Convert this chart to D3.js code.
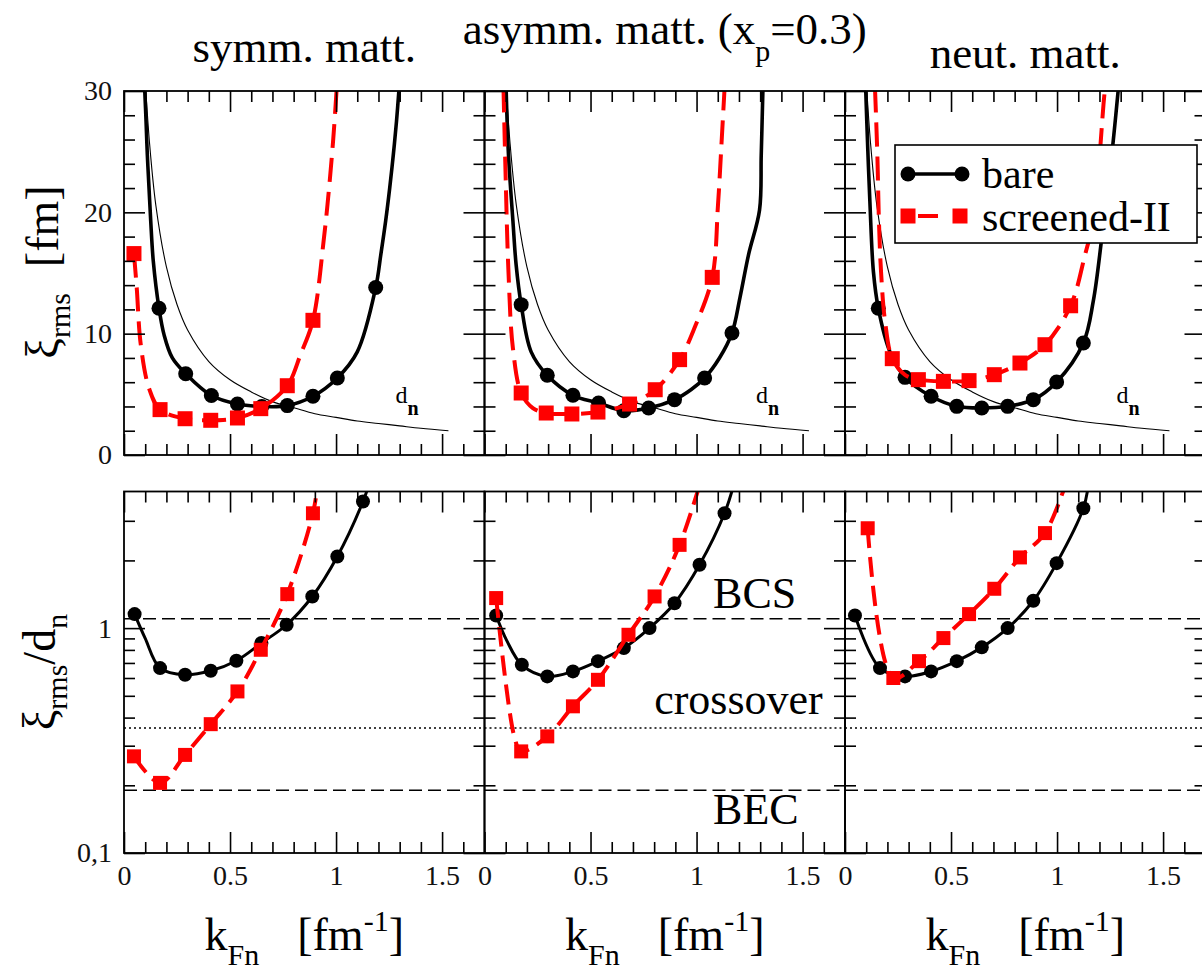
<!DOCTYPE html>
<html>
<head>
<meta charset="utf-8">
<script src="https://cdn.jsdelivr.net/npm/d3@7"></script>
<style>
  body { margin: 0; background: #fff; }
  svg { display: block; }
</style>
</head>
<body>
<svg id="chart" width="1202" height="970"></svg>
<script>
/* ---------- data: [kFn, value, isMarker] ---------- */
// top row: xi_rms [fm]
const symmBareTop = [[0.0975,30.2,0],[0.104,27.5,0],[0.110,24.75,0],[0.118,22.0,0],[0.126,19.3,0],[0.138,16.0,0],
  [0.165,12.1,1],[0.189,9.9,0],[0.228,8.0,0],[0.291,6.7,1],[0.412,4.9,1],[0.535,4.2,1],[0.650,4.0,1],[0.770,4.07,1],
  [0.891,4.84,1],[1.006,6.35,1],[1.10,8.5,0],[1.187,13.8,1],[1.211,16.5,0],[1.234,19.3,0],[1.253,22.0,0],
  [1.270,24.75,0],[1.285,27.5,0],[1.297,30.2,0]];
const symmScrTop = [[0.047,16.6,1],[0.060,13.8,0],[0.079,9.1,0],[0.118,5.5,0],[0.170,3.74,1],[0.288,2.99,1],
  [0.409,2.86,1],[0.535,3.05,1],[0.645,3.82,1],[0.770,5.71,1],[0.833,8.3,0],[0.891,11.1,1],[0.943,17.9,0],
  [0.967,22.0,0],[0.987,26.1,0],[1.003,30.2,0]];
const asymBareTop = [[0.102,30.2,0],[0.113,24.75,0],[0.134,19.3,0],[0.149,15.7,0],[0.173,12.39,1],[0.220,8.5,0],
  [0.296,6.57,1],[0.417,4.92,1],[0.538,4.29,1],[0.657,3.65,1],[0.774,3.87,1],[0.896,4.56,1],[0.975,5.4,0],
  [1.038,6.35,1],[1.108,8.0,0],[1.167,10.05,1],[1.205,13.0,0],[1.245,16.5,0],[1.297,20.2,0],[1.305,24.75,0],
  [1.313,30.2,0]];
const asymScrTop = [[0.0896,30.2,0],[0.099,23.4,0],[0.113,15.1,0],[0.134,8.8,0],[0.173,5.11,1],[0.228,3.87,0],
  [0.291,3.46,1],[0.412,3.38,1],[0.535,3.54,1],[0.684,4.20,1],[0.805,5.38,1],[0.920,7.86,1],[0.991,10.5,0],
  [1.074,14.64,1],[1.101,20.6,0],[1.119,26.1,0],[1.132,30.2,0]];
const neutBareTop = [[0.0975,30.2,0],[0.107,25.4,0],[0.118,20.6,0],[0.134,15.1,0],[0.157,12.1,1],[0.212,8.5,0],
  [0.283,6.40,1],[0.406,4.84,1],[0.527,4.01,1],[0.645,3.87,1],[0.767,4.01,1],[0.888,4.56,1],[0.998,6.02,1],
  [1.124,9.23,1],[1.171,12.7,0],[1.211,17.9,0],[1.258,24.75,0],[1.289,30.2,0]];
const neutScrTop = [[0.1415,30.2,0],[0.1525,24.75,0],[0.160,19.3,0],[0.170,15.1,0],[0.189,11.0,0],[0.223,7.94,1],
  [0.283,6.6,0],[0.346,6.21,1],[0.464,6.07,1],[0.585,6.13,1],[0.704,6.62,1],[0.825,7.58,1],[0.943,9.09,1],
  [1.064,12.3,1],[1.132,16.5,0],[1.171,19.3,0],[1.195,23.4,0],[1.219,28.9,0],[1.226,30.2,0]];
// mean neutron distance d_n [fm] (thin line, same in every top panel)
const dnLine = [[0.10,30.9],[0.12,25.8],[0.15,20.6],[0.20,15.5],[0.25,12.4],[0.30,10.3],[0.40,7.7],[0.50,6.2],
  [0.60,5.2],[0.70,4.4],[0.80,3.9],[0.90,3.4],[1.00,3.1],[1.10,2.8],[1.20,2.6],[1.30,2.4],[1.40,2.2],[1.53,2.0]];

// bottom row: xi_rms / d_n
const symmBareBot = [[0.050,1.154,1],[0.100,0.90,0],[0.170,0.664,1],[0.288,0.620,1],[0.409,0.646,1],[0.530,0.716,1],
  [0.648,0.858,1],[0.767,1.035,1],[0.888,1.382,1],[1.006,2.082,1],[1.127,3.656,1],[1.16,4.5,0]];
const symmScrBot = [[0.047,0.269,1],[0.170,0.205,1],[0.288,0.273,1],[0.409,0.374,1],[0.535,0.523,1],[0.645,0.801,1],
  [0.770,1.416,1],[0.891,3.24,1],[0.915,4.5,0]];
const asymBareBot = [[0.055,1.138,1],[0.105,0.88,0],[0.176,0.687,1],[0.296,0.610,1],[0.417,0.642,1],[0.535,0.713,1],
  [0.657,0.815,1],[0.778,1.0,1],[0.896,1.29,1],[1.014,1.912,1],[1.132,3.24,1],[1.18,4.5,0]];
const asymScrBot = [[0.055,1.36,1],[0.142,0.325,0],[0.173,0.283,1],[0.296,0.330,1],[0.417,0.449,1],[0.535,0.589,1],
  [0.679,0.934,1],[0.802,1.383,1],[0.920,2.345,1],[1.02,4.5,0]];
const neutBareBot = [[0.047,1.138,1],[0.165,0.664,1],[0.283,0.610,1],[0.406,0.642,1],[0.527,0.713,1],[0.645,0.821,1],
  [0.767,1.0,1],[0.888,1.323,1],[0.998,1.945,1],[1.124,3.41,1],[1.15,4.5,0]];
const neutScrBot = [[0.107,2.78,1],[0.228,0.600,1],[0.349,0.713,1],[0.464,0.903,1],[0.585,1.154,1],[0.704,1.496,1],
  [0.825,2.062,1],[0.943,2.645,1],[1.045,4.5,0]];

// BCS / crossover / BEC boundaries of xi_rms/d_n
const regimeLines = [1.1, 0.36, 0.19];
const regimeNames = ["BCS", "crossover", "BEC"];

const panelTitles = [["symm. matt.", "", ""], ["asymm. matt. (x", "p", "=0.3)"], ["neut. matt.", "", ""]];
const seriesNames = ["bare", "screened-II"];

const kMajor = [0, 0.5, 1, 1.5];
const kMinor = [0.1,0.2,0.3,0.4,0.6,0.7,0.8,0.9,1.1,1.2,1.3,1.4,1.6];
const xiMajor = [0, 10, 20, 30];
const xiMinor = [2,4,6,8,12,14,16,18,22,24,26,28];
const ratioMajor = [0.1, 1];
const ratioMinor = [0.2,0.3,0.4,0.5,0.6,0.7,0.8,0.9,2,3];
const ratioLabels = ["0,1", "1"];

/* ---------- layout ---------- */
const FONT = '"Liberation Serif"';
const svg = d3.select("#chart");
const panelLeft = [124, 484.5, 845];
const panelW = 360.5;
const topY = [91, 455], botY = [491.5, 853];
const tickSmall = 11, tickBig = 21;

const yTop = d3.scaleLinear().domain([0, 30]).range([topY[1], topY[0]]);
const yBot = d3.scaleLog().domain([0.1, 4.05]).range([botY[1], botY[0]]);

const panels = [
  { bareTop: symmBareTop, scrTop: symmScrTop, bareBot: symmBareBot, scrBot: symmScrBot },
  { bareTop: asymBareTop, scrTop: asymScrTop, bareBot: asymBareBot, scrBot: asymScrBot },
  { bareTop: neutBareTop, scrTop: neutScrTop, bareBot: neutBareBot, scrBot: neutScrBot }
];

const defs = svg.append("defs");

function drawTicks(g, x, y, yMajor, yMinor, x0, x1, y0, y1, xLabels, yLabelFmt) {
  const kill = a => a.call(s => s.select(".domain").remove());
  // bottom & top edges
  g.append("g").attr("transform", `translate(0,${y1})`)
    .call(d3.axisBottom(x).tickValues(kMinor).tickSize(-tickSmall).tickFormat("")).call(kill);
  const bx = g.append("g").attr("transform", `translate(0,${y1})`)
    .call(d3.axisBottom(x).tickValues(kMajor).tickSize(-tickBig).tickPadding(12)
      .tickFormat(xLabels ? d3.format("") : ""));
  kill(bx);
  bx.selectAll("text").attr("font-size", 28).attr("fill", "#111").style("font-family", FONT);
  g.append("g").attr("transform", `translate(0,${y0})`)
    .call(d3.axisTop(x).tickValues(kMinor).tickSize(-tickSmall).tickFormat("")).call(kill);
  g.append("g").attr("transform", `translate(0,${y0})`)
    .call(d3.axisTop(x).tickValues(kMajor).tickSize(-tickBig).tickFormat("")).call(kill);
  // left & right edges
  g.append("g").attr("transform", `translate(${x0},0)`)
    .call(d3.axisLeft(y).tickValues(yMinor).tickSize(-tickSmall).tickFormat("")).call(kill);
  const ly = g.append("g").attr("transform", `translate(${x0},0)`)
    .call(d3.axisLeft(y).tickValues(yMajor).tickSize(-tickBig).tickPadding(12)
      .tickFormat(yLabelFmt || ""));
  kill(ly);
  ly.selectAll("text").attr("font-size", 28).attr("fill", "#111").style("font-family", FONT);
  g.append("g").attr("transform", `translate(${x1},0)`)
    .call(d3.axisRight(y).tickValues(yMinor).tickSize(-tickSmall).tickFormat("")).call(kill);
  g.append("g").attr("transform", `translate(${x1},0)`)
    .call(d3.axisRight(y).tickValues(yMajor).tickSize(-tickBig).tickFormat("")).call(kill);
  g.selectAll(".tick line").attr("stroke", "#000").attr("stroke-width", 1.6);
}

function drawSeries(g, x, y, data, bare, big) {
  const line = d3.line().x(d => x(d[0])).y(d => y(d[1])).curve(d3.curveCatmullRom.alpha(0.5));
  g.append("path").datum(data).attr("d", line).attr("fill", "none")
    .attr("stroke", bare ? "#000" : "#ff0000")
    .attr("stroke-width", bare ? (big ? 3.6 : 3) : 4)
    .attr("stroke-dasharray", bare ? null : (big ? "24,10" : "20,9"));
  const marks = data.filter(d => d[2] === 1);
  if (bare) {
    g.selectAll(null).data(marks).enter().append("circle")
      .attr("cx", d => x(d[0])).attr("cy", d => y(d[1])).attr("r", big ? 7.5 : 7).attr("fill", "#000");
  } else {
    const s = big ? 15 : 14;
    g.selectAll(null).data(marks).enter().append("rect")
      .attr("x", d => x(d[0]) - s / 2).attr("y", d => y(d[1]) - s / 2)
      .attr("width", s).attr("height", s).attr("fill", "#ff0000");
  }
}

function txt(sel) { return sel.append("text").style("font-family", FONT).attr("fill", "#000"); }

panels.forEach((p, i) => {
  const x0 = panelLeft[i], x1 = x0 + panelW;
  const x = d3.scaleLinear().domain([0, 1.7]).range([x0, x1]);

  /* ---- top panel: xi_rms ---- */
  defs.append("clipPath").attr("id", `clipT${i}`).append("rect")
    .attr("x", x0).attr("y", topY[0]).attr("width", panelW).attr("height", topY[1] - topY[0]);
  const gT = svg.append("g");
  const cT = gT.append("g").attr("clip-path", `url(#clipT${i})`);
  cT.append("path").datum(dnLine)
    .attr("d", d3.line().x(d => x(d[0])).y(d => yTop(d[1])).curve(d3.curveCatmullRom.alpha(0.5)))
    .attr("fill", "none").attr("stroke", "#000").attr("stroke-width", 1.1);
  drawSeries(cT, x, yTop, p.bareTop, true, true);
  drawSeries(cT, x, yTop, p.scrTop, false, true);
  gT.append("rect").attr("x", x0).attr("y", topY[0]).attr("width", panelW).attr("height", topY[1] - topY[0])
    .attr("fill", "none").attr("stroke", "#000").attr("stroke-width", 1.8);
  drawTicks(gT, x, yTop, xiMajor, xiMinor, x0, x1, topY[0], topY[1], false, i === 0 ? d3.format("") : null);

  const dn = txt(gT).attr("x", x(1.28)).attr("y", yTop(4.3)).attr("font-size", 24);
  dn.append("tspan").text("d");
  dn.append("tspan").attr("dy", 12).attr("font-size", 20).attr("font-weight", "bold").text("n");

  /* ---- bottom panel: xi_rms / d_n ---- */
  defs.append("clipPath").attr("id", `clipB${i}`).append("rect")
    .attr("x", x0).attr("y", botY[0]).attr("width", panelW).attr("height", botY[1] - botY[0]);
  const gB = svg.append("g");
  const cB = gB.append("g").attr("clip-path", `url(#clipB${i})`);
  regimeLines.forEach((v, j) => {
    cB.append("line").attr("x1", x0).attr("x2", x1).attr("y1", yBot(v)).attr("y2", yBot(v))
      .attr("stroke", "#000").attr("stroke-width", 1.5)
      .attr("stroke-dasharray", j === 1 ? "2,3" : "13,6");
  });
  drawSeries(cB, x, yBot, p.bareBot, true, false);
  drawSeries(cB, x, yBot, p.scrBot, false, false);
  gB.append("rect").attr("x", x0).attr("y", botY[0]).attr("width", panelW).attr("height", botY[1] - botY[0])
    .attr("fill", "none").attr("stroke", "#000").attr("stroke-width", 1.8);
  drawTicks(gB, x, yBot, ratioMajor, ratioMinor, x0, x1, botY[0], botY[1], true,
    i === 0 ? (d => ratioLabels[ratioMajor.indexOf(d)]) : null);

  /* ---- x axis title ---- */
  const xt = txt(svg).attr("x", x0 + panelW / 2).attr("y", 950)
    .attr("text-anchor", "middle").attr("font-size", 46);
  xt.append("tspan").text("k");
  xt.append("tspan").attr("font-size", 30).attr("dy", 15).text("Fn");
  xt.append("tspan").attr("dy", -15).attr("dx", 38).text("[fm");
  xt.append("tspan").attr("font-size", 30).attr("dy", -19).text("-1");
  xt.append("tspan").attr("dy", 19).text("]");

  /* ---- panel title ---- */
  const tt = txt(svg).attr("x", x0 + panelW / 2).attr("y", [62, 44, 68][i])
    .attr("text-anchor", "middle").attr("font-size", 45);
  tt.append("tspan").text(panelTitles[i][0]);
  if (panelTitles[i][1]) {
    tt.append("tspan").attr("font-size", 30).attr("dy", 17).text(panelTitles[i][1]);
    tt.append("tspan").attr("dy", -17).text(panelTitles[i][2]);
  }
});

/* ---------- regime labels (middle bottom panel) ---------- */
const xMid = d3.scaleLinear().domain([0, 1.7]).range([panelLeft[1], panelLeft[1] + panelW]);
const regimePos = [[1.078, -11], [0.80, -14], [1.078, 34]];
regimeNames.forEach((name, j) => {
  txt(svg).attr("x", xMid(regimePos[j][0])).attr("y", yBot(regimeLines[j]) + regimePos[j][1])
    .attr("font-size", 44).text(name);
});

/* ---------- y axis titles ---------- */
const yt1 = txt(svg).attr("transform", "translate(58,272) rotate(-90)")
  .attr("text-anchor", "middle").attr("font-size", 46);
yt1.append("tspan").text("ξ");
yt1.append("tspan").attr("font-size", 30).attr("dy", 12).text("rms");
yt1.append("tspan").attr("dy", -12).attr("dx", 26).text("[fm]");

const yt2 = txt(svg).attr("transform", "translate(55,672) rotate(-90)")
  .attr("text-anchor", "middle").attr("font-size", 46);
yt2.append("tspan").text("ξ");
yt2.append("tspan").attr("font-size", 30).attr("dy", 12).text("rms");
yt2.append("tspan").attr("dy", -12).text("/d");
yt2.append("tspan").attr("font-size", 30).attr("dy", 12).text("n");

/* ---------- legend ---------- */
const lg = svg.append("g");
lg.append("rect").attr("x", 895).attr("y", 145).attr("width", 302).attr("height", 98)
  .attr("fill", "#fff").attr("stroke", "#000").attr("stroke-width", 1.6);
lg.append("line").attr("x1", 908).attr("x2", 962).attr("y1", 174).attr("y2", 174)
  .attr("stroke", "#000").attr("stroke-width", 3.6);
[908, 962].forEach(cx => lg.append("circle").attr("cx", cx).attr("cy", 174).attr("r", 7.5).attr("fill", "#000"));
lg.append("line").attr("x1", 908).attr("x2", 962).attr("y1", 216).attr("y2", 216)
  .attr("stroke", "#ff0000").attr("stroke-width", 4).attr("stroke-dasharray", "0,10,20,30");
[908, 960].forEach(cx => lg.append("rect").attr("x", cx - 7.5).attr("y", 208.5).attr("width", 15).attr("height", 15)
  .attr("fill", "#ff0000"));
seriesNames.forEach((n, j) => {
  txt(lg).attr("x", 982).attr("y", [188, 231][j]).attr("font-size", 42).text(n);
});
</script>
</body>
</html>
